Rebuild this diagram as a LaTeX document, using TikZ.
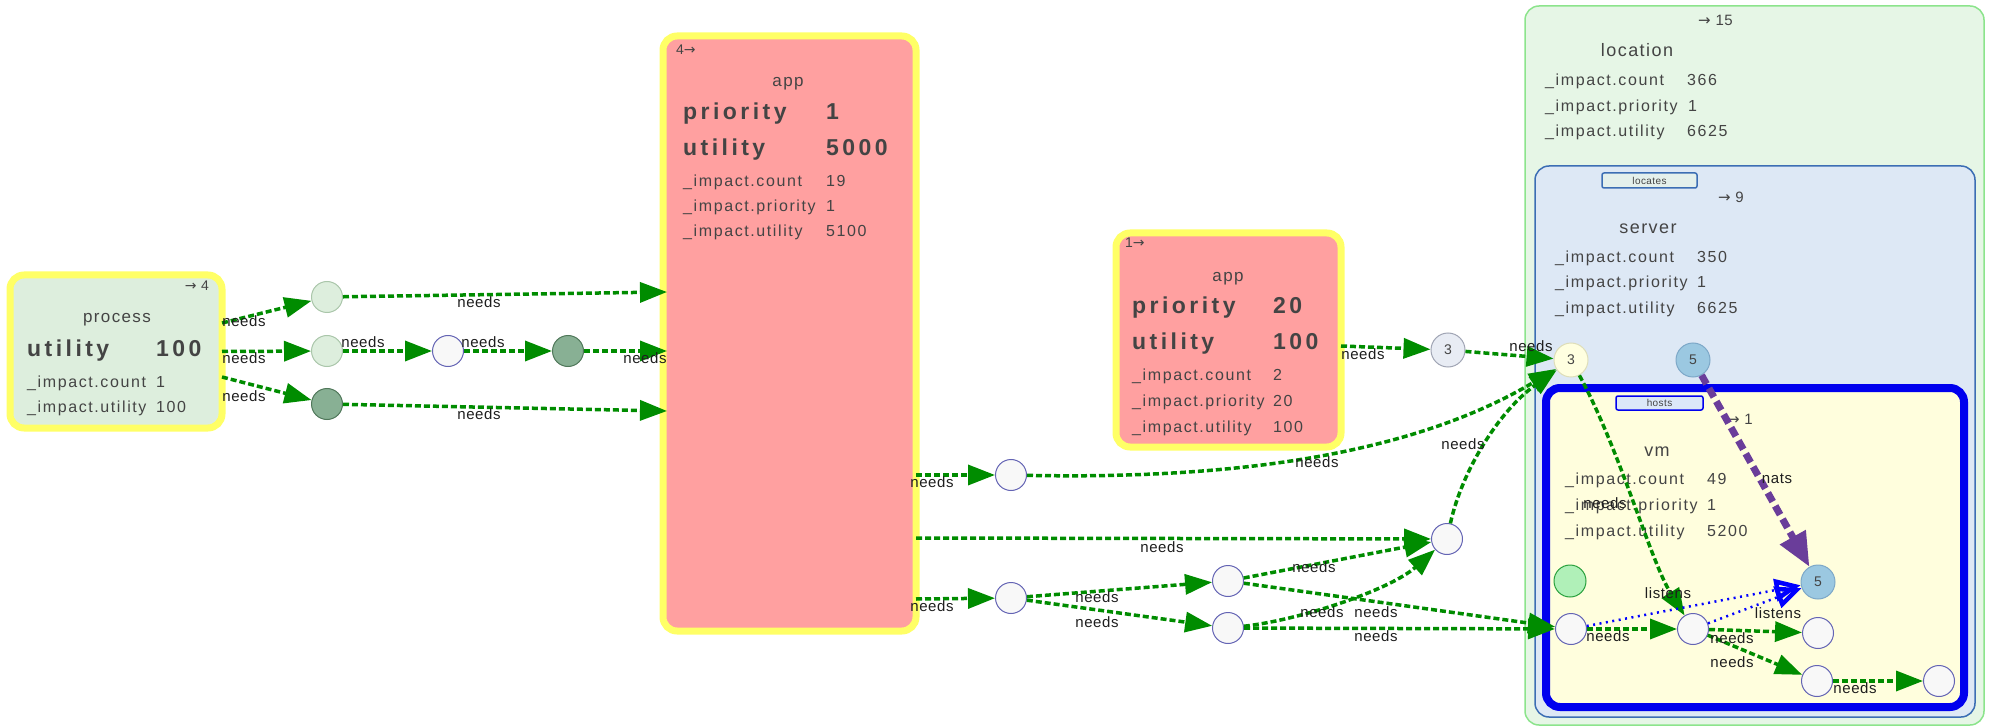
\documentclass[tikz,border=0pt]{standalone}
\usepackage{fontspec}
\setmainfont{Liberation Sans}
\newfontfamily\dfont{Liberation Sans}[LetterSpace=10]
\newfontfamily\tfont{Liberation Sans}[LetterSpace=8]
\newfontfamily\bfont{Liberation Sans}[LetterSpace=15]
\newfontfamily\lfont{Liberation Sans}[LetterSpace=4]
\newfontfamily\afont{DejaVu Sans}
\usetikzlibrary{arrows.meta,calc}
\definecolor{ybord}{RGB}{255,255,102}
\definecolor{appfill}{RGB}{255,160,160}
\definecolor{procfill}{RGB}{221,238,221}
\definecolor{txtgray}{RGB}{68,68,68}
\definecolor{labtext}{RGB}{30,30,30}
\definecolor{locfill}{RGB}{230,246,230}
\definecolor{locstroke}{RGB}{140,228,140}
\definecolor{srvfill}{RGB}{221,232,245}
\definecolor{srvstroke}{RGB}{60,110,180}
\definecolor{vmfill}{RGB}{255,254,221}
\definecolor{vmblue}{RGB}{0,0,238}
\definecolor{locatesfill}{RGB}{228,240,236}
\definecolor{hostsfill}{RGB}{220,232,248}
\definecolor{edgegreen}{RGB}{0,140,0}
\definecolor{natspurple}{RGB}{106,61,154}
\definecolor{lgfill}{RGB}{221,238,221}
\definecolor{lgstroke}{RGB}{170,198,170}
\definecolor{dgfill}{RGB}{136,176,148}
\definecolor{dgstroke}{RGB}{80,120,90}
\definecolor{wfill}{RGB}{248,248,248}
\definecolor{wstroke}{RGB}{100,100,180}
\definecolor{gyfill}{RGB}{232,236,244}
\definecolor{gystroke}{RGB}{160,165,180}
\definecolor{yfill}{RGB}{255,255,224}
\definecolor{ystroke}{RGB}{222,222,185}
\definecolor{bfill}{RGB}{155,200,225}
\definecolor{bstroke}{RGB}{125,168,200}
\definecolor{gcfill}{RGB}{176,240,184}
\definecolor{gcstroke}{RGB}{40,160,60}
\tikzset{
  box/.style={draw, rounded corners=14pt, outer sep=0pt, inner sep=0pt},
  appbox/.style={box, draw=ybord, fill=appfill, line width=7pt},
  circ/.style={circle, draw, line width=1pt, minimum size=31pt, inner sep=0pt,
    font=\lfont\fontsize{14}{16}\selectfont, text=txtgray},
  lgc/.style={circ, fill=lgfill, draw=lgstroke},
  dgc/.style={circ, fill=dgfill, draw=dgstroke},
  wc/.style={circ, fill=wfill, draw=wstroke},
  needs/.style={draw=edgegreen, line width=3.5pt, dash pattern=on 6pt off 3pt,
    -{Triangle[length=27pt,width=20pt]}},
  natsedge/.style={draw=natspurple, line width=7pt, dash pattern=on 10pt off 5pt,
    -{Triangle[length=34pt,width=28pt]}},
  listensedge/.style={draw=blue, line width=2.5pt, dash pattern=on 2pt off 4.5pt,
    -{Triangle[open,length=26pt,width=22pt,line width=4.5pt]}},
  lab/.style={font=\lfont\fontsize{15}{17}\selectfont, text=labtext, inner sep=0pt},
  dat/.style={font=\dfont\fontsize{16}{18}\selectfont, text=txtgray, inner sep=0pt, anchor=base west},
  ttl/.style={font=\tfont\fontsize{17}{19}\selectfont, text=txtgray, inner sep=0pt, anchor=base},
  bigt/.style={font=\bfont\bfseries\fontsize{23}{26}\selectfont, text=txtgray, inner sep=0pt, anchor=base west},
  cnt/.style={font=\lfont\fontsize{14}{16}\selectfont, text=txtgray, inner sep=0pt, anchor=base east},
  tag/.style={draw, rounded corners=2pt, line width=1.5pt, inner sep=0pt,
    font=\lfont\fontsize{10}{12}\selectfont, text=txtgray},
}
\begin{document}
\begin{tikzpicture}[x=1pt,y=-1pt]
\useasboundingbox (0,0) rectangle (1992,727);
% containers
\node[box, draw=locstroke, fill=locfill, line width=1.5pt, minimum width=459pt, minimum height=719pt] (loc) at (1754.5,365.5) {};
\node[box, draw=srvstroke, fill=srvfill, line width=1.5pt, minimum width=440pt, minimum height=551pt] (srv) at (1755,441.5) {};
\node[box, draw=vmblue, fill=vmfill, line width=8pt, minimum width=418pt, minimum height=319pt] (vm) at (1755,547.5) {};
\node[appbox, fill=procfill, minimum width=212pt, minimum height=153pt] (proc) at (116,351.5) {};
\node[appbox, minimum width=253pt, minimum height=595pt] (app1) at (789.5,333.5) {};
\node[appbox, minimum width=225pt, minimum height=214pt] (app2) at (1228.5,340) {};
% process text
\node[cnt] (proc-k) at (209,291) {{\afont →}\ 4};
\node[ttl] (proc-t) at (117,323) {process};
\node[bigt] (proc-u) at (27,356) {utility};
\node[bigt] (proc-uv) at (156,356) {100};
\node[dat] (proc-r1) at (27,387) {\_impact.count};
\node[dat] (proc-r1v) at (156,387) {1};
\node[dat] (proc-r2) at (27,412) {\_impact.utility};
\node[dat] (proc-r2v) at (156,412) {100};
% app1 text
\node[cnt, anchor=base west] (a1-k) at (676,55) {4{\afont →}};
\node[ttl] (a1-t) at (788,87) {app};
\node[bigt] (a1-p) at (683,120) {priority};
\node[bigt] (a1-pv) at (826,120) {1};
\node[bigt] (a1-u) at (683,156) {utility};
\node[bigt] (a1-uv) at (826,156) {5000};
\node[dat] (a1-r1) at (683,187) {\_impact.count};
\node[dat] (a1-r1v) at (826,187) {19};
\node[dat] (a1-r2) at (683,212) {\_impact.priority};
\node[dat] (a1-r2v) at (826,212) {1};
\node[dat] (a1-r3) at (683,237) {\_impact.utility};
\node[dat] (a1-r3v) at (826,237) {5100};
% app2 text
\node[cnt, anchor=base west] (a2-k) at (1125,248) {1{\afont →}};
\node[ttl] (a2-t) at (1228,282) {app};
\node[bigt] (a2-p) at (1132,314) {priority};
\node[bigt] (a2-pv) at (1273,314) {20};
\node[bigt] (a2-u) at (1132,349) {utility};
\node[bigt] (a2-uv) at (1273,349) {100};
\node[dat] (a2-r1) at (1132,380) {\_impact.count};
\node[dat] (a2-r1v) at (1273,380) {2};
\node[dat] (a2-r2) at (1132,406) {\_impact.priority};
\node[dat] (a2-r2v) at (1273,406) {20};
\node[dat] (a2-r3) at (1132,432) {\_impact.utility};
\node[dat] (a2-r3v) at (1273,432) {100};
% location text
\node[cnt, font=\lfont\fontsize{15}{17}\selectfont] (loc-k) at (1733,26) {{\afont →}\ 15};
\node[ttl, font=\tfont\fontsize{18}{20}\selectfont] (loc-t) at (1637,57) {location};
\node[dat] (loc-r1) at (1545,86) {\_impact.count};
\node[dat] (loc-r1v) at (1687,86) {366};
\node[dat] (loc-r2) at (1545,112) {\_impact.priority};
\node[dat] (loc-r2v) at (1688,112) {1};
\node[dat] (loc-r3) at (1545,137) {\_impact.utility};
\node[dat] (loc-r3v) at (1687,137) {6625};
% server text
\node[tag, draw=srvstroke, fill=locatesfill, minimum width=95pt, minimum height=15pt] (locates) at (1649.5,180.5) {locates};
\node[cnt, font=\lfont\fontsize{15}{17}\selectfont] (srv-k) at (1744,203) {{\afont →}\ 9};
\node[ttl, font=\tfont\fontsize{18}{20}\selectfont] (srv-t) at (1648,234) {server};
\node[dat] (srv-r1) at (1555,263) {\_impact.count};
\node[dat] (srv-r1v) at (1697,263) {350};
\node[dat] (srv-r2) at (1555,288) {\_impact.priority};
\node[dat] (srv-r2v) at (1697,288) {1};
\node[dat] (srv-r3) at (1555,314) {\_impact.utility};
\node[dat] (srv-r3v) at (1697,314) {6625};
% vm text
\node[tag, draw=vmblue, fill=hostsfill, minimum width=87pt, minimum height=14pt] (hosts) at (1659.5,403) {hosts};
\node[cnt, font=\lfont\fontsize{15}{17}\selectfont] (vm-k) at (1753,424) {{\afont →}\ 1};
\node[ttl, font=\tfont\fontsize{18}{20}\selectfont] (vm-t) at (1657,456) {vm};
\node[dat] (vm-r1) at (1565,484) {\_impact.count};
\node[dat] (vm-r1v) at (1707,484) {49};
\node[dat] (vm-r2) at (1565,510) {\_impact.priority};
\node[dat] (vm-r2v) at (1707,510) {1};
\node[dat] (vm-r3) at (1565,536) {\_impact.utility};
\node[dat] (vm-r3v) at (1707,536) {5200};
% circles
\node[lgc] (c1) at (327,297) {};
\node[lgc] (c2) at (327,351) {};
\node[dgc] (c3) at (327,404) {};
\node[wc]  (w0) at (448,351) {};
\node[dgc] (c4) at (568,351) {};
\node[circ, fill=gyfill, draw=gystroke, minimum size=34pt] (g3) at (1448,350) {3};
\node[circ, fill=yfill, draw=ystroke, minimum size=34pt] (y3) at (1571,360) {3};
\node[circ, fill=bfill, draw=bstroke, minimum size=34pt] (b5) at (1693,360) {5};
\node[circ, fill=gcfill, draw=gcstroke, minimum size=32pt] (gc) at (1570,581) {};
\node[circ, fill=bfill, draw=bstroke, minimum size=34pt] (l5) at (1818,582) {5};
\node[wc] (vA) at (1571,629) {};
\node[wc] (vB) at (1693,629) {};
\node[wc] (vC) at (1818,633) {};
\node[wc] (vD) at (1817,681) {};
\node[wc] (vE) at (1939,681) {};
\node[wc] (W1) at (1011,475) {};
\node[wc] (W2) at (1447,539) {};
\node[wc] (W3) at (1011,598) {};
\node[wc] (W4) at (1228,581) {};
\node[wc] (W5) at (1228,628) {};
% edges
\draw[needs] ($(proc.east)+(0,-28.5)$) -- (c1);
\draw[needs] (proc.east) -- (c2);
\draw[needs] ($(proc.east)+(0,25.5)$) -- (c3);
\draw[needs] (c1) -- ($(app1.west)+(4,-41.5)$);
\draw[needs] (c2) -- (w0);
\draw[needs] (w0) -- (c4);
\draw[needs] (c4) -- ($(app1.west)+(4,17.5)$);
\draw[needs] (c3) -- ($(app1.west)+(4,77.5)$);
\draw[needs] ($(app1.east)+(0,141.5)$) -- (W1);
\draw[needs] ($(app1.east)+(0,204.5)$) -- (W2);
\draw[needs] ($(app1.east)+(0,265.5)$) -- (W3);
\draw[needs] (W1) .. controls (1250,480) and (1420,450) .. (y3);
\draw[needs] (W2) .. controls (1462,470) and (1500,410) .. (y3);
\draw[needs] ($(app2.east)+(0,6)$) -- (g3);
\draw[needs] (g3) -- (y3);
\draw[needs] (W3) -- (W4);
\draw[needs] (W3) -- (W5);
\draw[needs] (W4) -- (W2);
\draw[needs] (W4) -- (vA);
\draw[needs] (W5) .. controls (1300,620) and (1390,590) .. (W2);
\draw[needs] (W5) -- (vA);
\draw[needs] (vA) -- (vB);
\draw[needs] (y3) .. controls (1620,450) and (1650,560) .. (vB);
\draw[needs] (vB) -- (vC);
\draw[needs] (vB) -- (vD);
\draw[needs] (vD) -- (vE);
\draw[natsedge] (b5) -- (l5);
\draw[listensedge] (vA) -- (l5);
\draw[listensedge] (vB) -- (l5);
% labels
\node[lab] (n1) at (244,321) {needs};
\node[lab] (n2) at (244,358) {needs};
\node[lab] (n3) at (244,396) {needs};
\node[lab] (n4) at (479,302) {needs};
\node[lab] (n5) at (363,342) {needs};
\node[lab] (n6) at (483,342) {needs};
\node[lab] (n7) at (645,358) {needs};
\node[lab] (n8) at (479,414) {needs};
\node[lab] (n9) at (932,482) {needs};
\node[lab] (n10) at (1162,547) {needs};
\node[lab] (n11) at (932,606) {needs};
\node[lab] (n12) at (1317,462) {needs};
\node[lab] (n13) at (1463,444) {needs};
\node[lab] (n14) at (1531,346) {needs};
\node[lab] (n15) at (1363,354) {needs};
\node[lab] (n16) at (1097,597) {needs};
\node[lab] (n17) at (1097,622) {needs};
\node[lab] (n18) at (1314,567) {needs};
\node[lab] (n19) at (1376,612) {needs};
\node[lab] (n20) at (1322,612) {needs};
\node[lab] (n21) at (1376,636) {needs};
\node[lab] (n22) at (1608,636) {needs};
\node[lab] (n23) at (1605,503) {needs};
\node[lab] (n24) at (1777,479) {nats};
\node[lab] (n25) at (1668,593) {listens};
\node[lab] (n26) at (1778,613) {listens};
\node[lab] (n27) at (1732,638) {needs};
\node[lab] (n28) at (1732,662) {needs};
\node[lab] (n29) at (1855,688) {needs};
\end{tikzpicture}
\end{document}
